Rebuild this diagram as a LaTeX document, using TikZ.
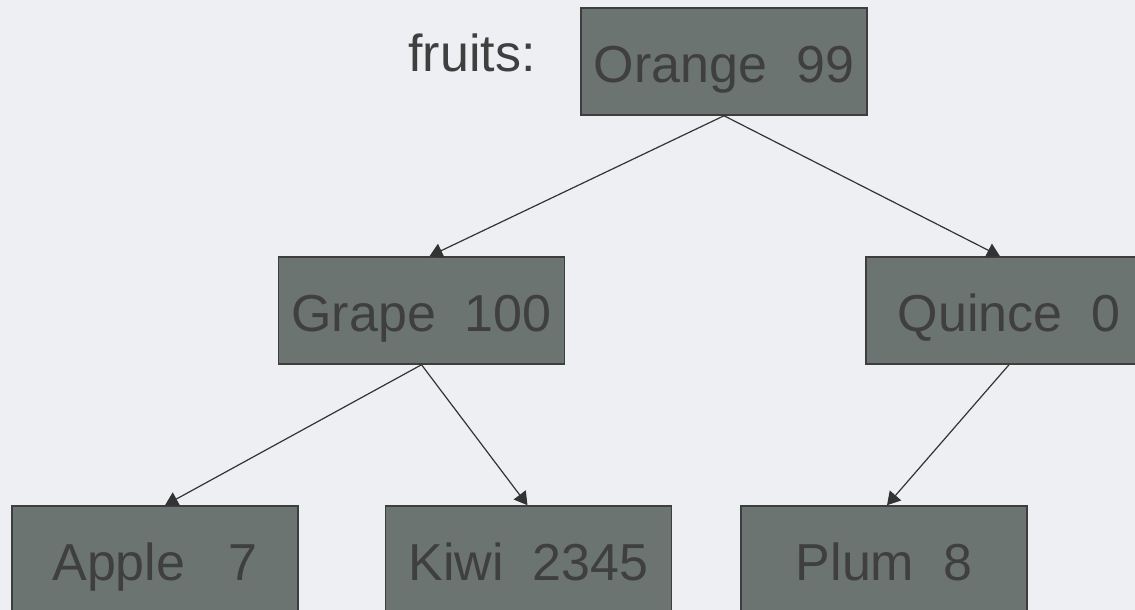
\documentclass[tikz,border=0pt]{standalone}
\usepackage{fontspec}
\setmainfont{Liberation Sans}
\usetikzlibrary{arrows.meta}
\definecolor{bgc}{HTML}{EEEFF2}
\definecolor{boxfill}{HTML}{6C7471}
\definecolor{boxline}{HTML}{3E3E3E}
\definecolor{txt}{HTML}{3F3F3F}
\definecolor{arr}{HTML}{333333}
\tikzset{
  fruitbox/.style={draw=boxline, fill=boxfill, line width=1.5pt, inner sep=0pt,
    minimum width=286pt, minimum height=107pt, text=txt,
    font=\fontsize{52}{60}\selectfont, text height=41pt, text depth=0pt},
  link/.style={draw=arr, line width=1.2pt, -{Triangle[length=13pt,width=15pt]}},
  lbl/.style={text=txt, font=\fontsize{52}{60}\selectfont, inner sep=0pt, anchor=base}
}
\begin{document}
\begin{tikzpicture}[x=1pt,y=-1pt]
\useasboundingbox (0,0) rectangle (1135,610);
\clip (0,0) rectangle (1135,610);
\fill[bgc] (0,0) rectangle (1135,610);
\node[lbl] (lab) at (472,72) {fruits:};
\node[fruitbox] (orange) at (724,61.5) {Orange\hspace{0.556em}99};
\node[fruitbox] (grape) at (421.5,310.5) {Grape\hspace{0.556em}100};
\node[fruitbox] (quince) at (1009,310.5) {Quince\hspace{0.556em}0};
\node[fruitbox] (apple) at (155,559.5) {Apple\hspace{0.834em}7};
\node[fruitbox] (kiwi) at (528.5,559.5) {Kiwi\hspace{0.556em}2345};
\node[fruitbox] (plum) at (884,559.5) {Plum\hspace{0.556em}8};
\draw[link] (orange.south) -- ([xshift=8pt]grape.north);
\draw[link] (orange.south) -- ([xshift=-9pt]quince.north);
\draw[link] (grape.south) -- ([xshift=10pt]apple.north);
\draw[link] (grape.south) -- ([xshift=-1pt]kiwi.north);
\draw[link] (quince.south) -- ([xshift=3pt]plum.north);
\end{tikzpicture}
\end{document}
